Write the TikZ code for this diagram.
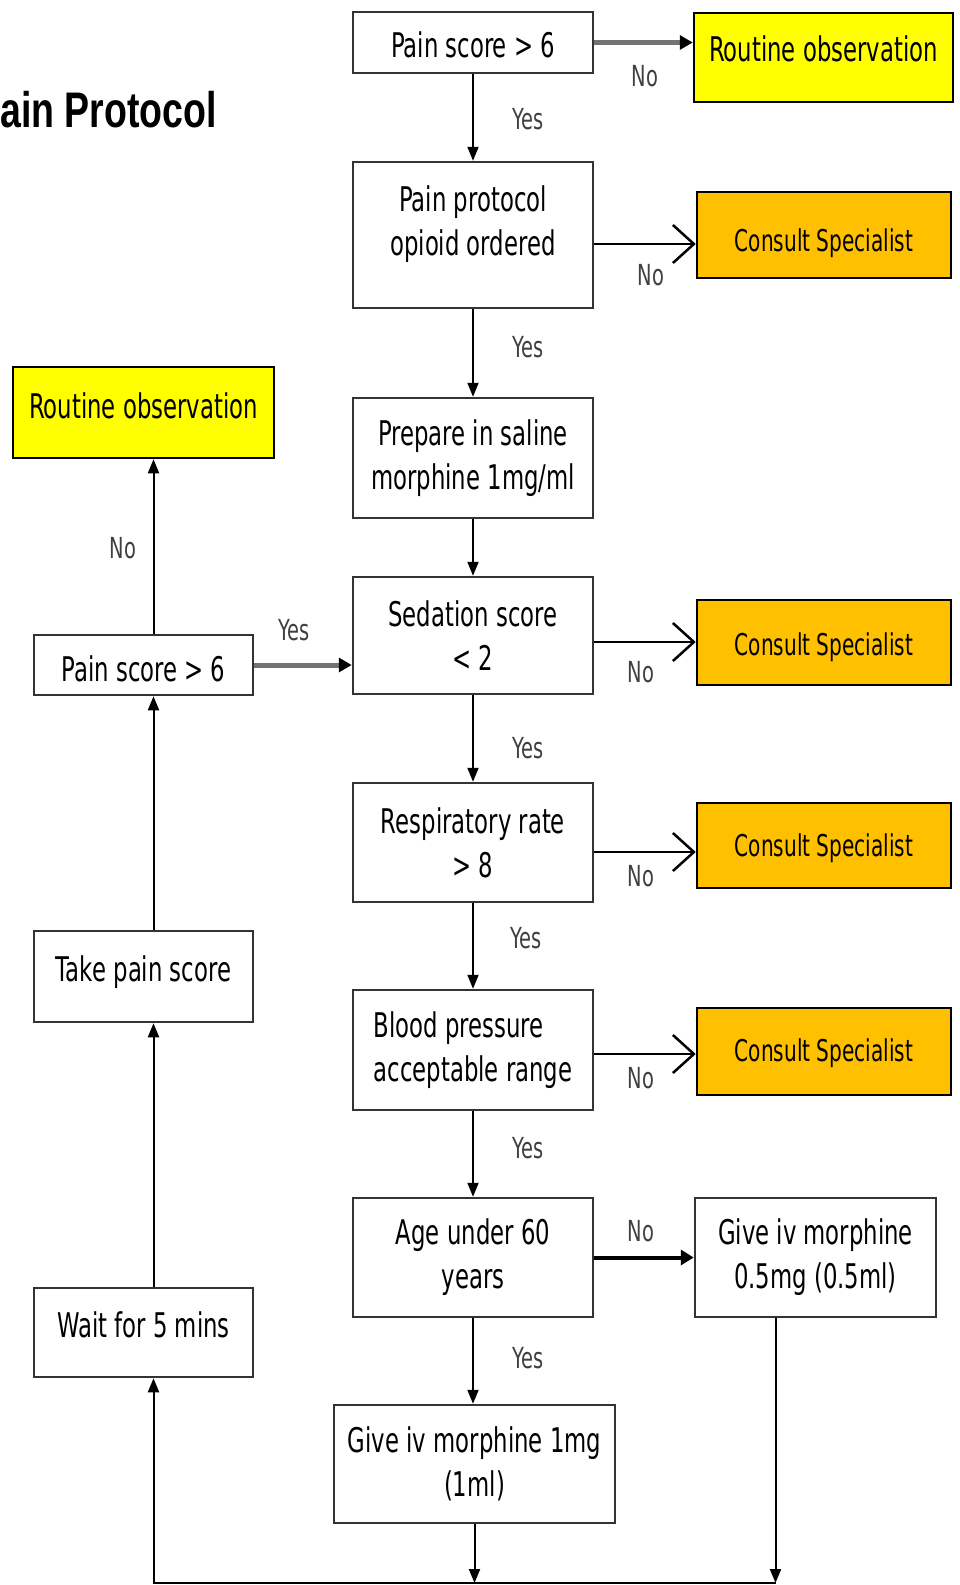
\documentclass[tikz,border=0pt]{standalone}
\usepackage{fontspec}
\usepackage{tikz}
\usetikzlibrary{arrows.meta, positioning}
\newfontfamily\boxfont[FakeStretch=0.67]{DejaVu Sans}
\newfontfamily\headfont[FakeStretch=0.75]{Liberation Sans}
\definecolor{myYellow}{RGB}{255,255,0}
\definecolor{myAmber}{RGB}{255,192,0}
\tikzset{
	box/.style={draw=black!80, line width=2.5pt, fill=white, align=center, inner sep=0pt,
		font=\boxfont\fontsize{34}{44}\selectfont},
	sz/.style 2 args={minimum width=#1pt, minimum height=#2pt},
	txt/.style 2 args={text height=#1pt, text depth=#2pt},
	observe/.style={box, draw=black, fill=myYellow},
	consult/.style={box, draw=black, fill=myAmber, font=\boxfont\fontsize{30}{40}\selectfont},
	lbl/.style={font=\boxfont\fontsize{29}{34}\selectfont, text=black!75, inner sep=0pt},
	link/.style={line width=2pt, -{Triangle[length=14pt,width=11pt]}},
	heavy/.style={line width=5pt, draw=black!55, -{Triangle[length=13pt,width=14pt,color=black]}},
	barb/.style={line width=2.5pt, -{Straight Barb[length=21pt,width=38pt,line width=2.5pt]}}
}

\begin{document}
\begin{tikzpicture}[x=1pt, y=-1pt]
			\useasboundingbox (0,0) rectangle (959,1585);
			\node[anchor=base west, inner sep=0pt, font=\headfont\bfseries\fontsize{50}{60}\selectfont] (title) at (0,127) {ain Protocol};

			% main column
			\node[box, sz={240}{61}, txt={38}{8}] (p1) at (473,42.5) {Pain score > 6};
			\node[box, sz={240}{146}, text depth=28pt] (pp) at (473,235) {Pain protocol\\opioid ordered};
			\node[box, sz={240}{120}] (prep) at (473,458) {Prepare in saline\\morphine 1mg/ml};
			\node[box, sz={240}{117}] (sed) at (473,635.5) {Sedation score\\< 2};
			\node[box, sz={240}{119}] (resp) at (473,842.5) {Respiratory rate\\> 8};
			\node[box, sz={240}{120}, align=left] (bp) at (473,1050) {Blood pressure\\acceptable range};
			\node[box, sz={240}{119}] (age) at (473,1257.5) {Age under 60\\years};
			\node[box, sz={281}{118}] (g1) at (474.5,1464) {Give iv morphine 1mg\\(1ml)};

			% right column
			\node[observe, sz={259}{89}, txt={26}{18}] (r1) at (823.5,57.5) {Routine observation};
			\node[consult, sz={254}{86}, txt={39}{7}] (c1) at (824,235) {Consult Specialist};
			\node[consult, sz={254}{85}, txt={33}{7}] (c2) at (824,642.5) {Consult Specialist};
			\node[consult, sz={254}{85}, txt={29}{7}] (c3) at (824,845.5) {Consult Specialist};
			\node[consult, sz={254}{87}, txt={27}{7}] (c4) at (824,1051.5) {Consult Specialist};
			\node[box, sz={241}{119}] (g05) at (815.5,1257.5) {Give iv morphine\\0.5mg (0.5ml)};

			% left column
			\node[observe, sz={261}{91}, txt={26}{14}] (r2) at (143.5,412.5) {Routine observation};
			\node[box, sz={219}{60}, txt={40}{8}] (p2) at (143.5,665) {Pain score > 6};
			\node[box, sz={219}{91}, txt={26}{16}] (tps) at (143.5,976.5) {Take pain score};
			\node[box, sz={219}{89}, txt={26}{16}] (wait) at (143.5,1332.5) {Wait for 5 mins};

			% connectors
			\foreach \a/\b in {p1/pp, pp/prep, prep/sed, sed/resp, resp/bp, bp/age, age/g1}
				\draw[link] (\a.south) -- (\a.south |- \b.north);
			\foreach \a/\b/\y in {pp/c1/244, sed/c2/642, resp/c3/852, bp/c4/1054} {
				\coordinate (lvl) at (0,\y);
				\draw[barb] (\a.east |- lvl) -- (\b.west |- lvl);
			}
			\draw[heavy] (p1.east) -- (p1.east -| r1.west);
			\draw[heavy] (p2.east) -- (p2.east -| sed.west);
			\draw[line width=4pt, -{Triangle[length=13pt,width=15pt]}] (age.east) -- (g05.west);

			% loop back
			\coordinate (base) at (0,1583);
			\coordinate (dropL) at ([xshift=10pt]wait.south);
			\coordinate (dropR) at ([xshift=-40pt]g05.south);
			\draw[link] (g1.south) -- (g1.south |- base);
			\draw[link] (dropR) -- (dropR |- base);
			\draw[link] (dropR |- base) -- (dropL |- base) -- (dropL);
			\draw[link] (dropL |- wait.north) -- (dropL |- tps.south);
			\draw[link] (dropL |- tps.north) -- (dropL |- p2.south);
			\draw[link] (dropL |- p2.north) -- (dropL |- r2.south);

			% yes / no
			\foreach \n/\x/\y/\t in {l1/645/76/No, l2/528/119/Yes, l3/651/275/No, l4/528/347/Yes,
				l5/123/548/No, l6/294/630/Yes, l7/641/672/No, l8/528/748/Yes, l9/641/876/No,
				l10/526/938/Yes, l11/641/1078/No, l12/528/1148/Yes, l13/641/1231/No, l14/528/1358/Yes}
				\node[lbl] (\n) at (\x,\y) {\t};
\end{tikzpicture}
\end{document}
